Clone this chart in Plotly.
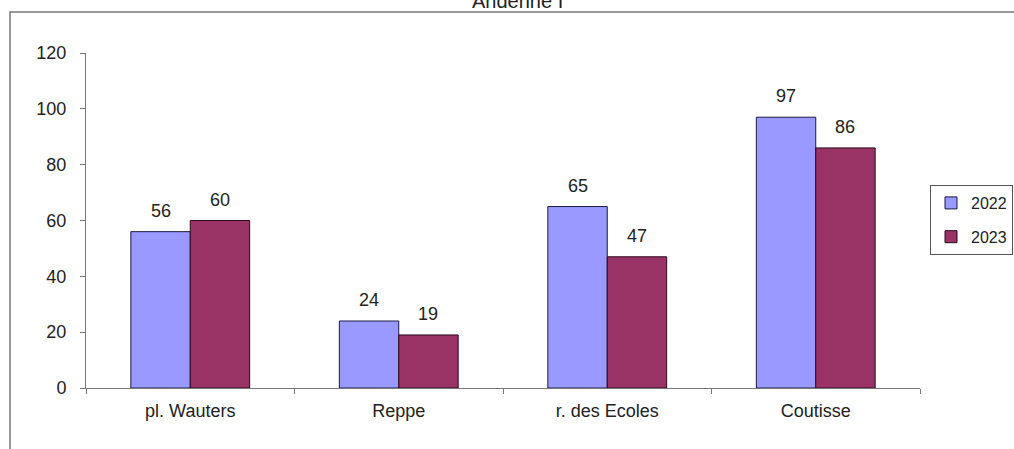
import plotly.graph_objects as go

categories = ["pl. Wauters", "Reppe", "r. des Ecoles", "Coutisse"]
series_names = ["2022", "2023"]
values_2022 = [56, 24, 65, 97]
values_2023 = [60, 19, 47, 86]
y_ticks = [0, 20, 40, 60, 80, 100, 120]
title_text = "Andenne I"

W, H = 1014, 449
L, R, T, B = 86, 94, 53, 61
pw, ph = W - L - R, H - T - B
BARGAP = 0.43

def px_x(x):
    return (x - L) / pw

def px_y(y):
    return 1 - (y - T) / ph

FAM = "Arial, Liberation Sans, sans-serif"
font = dict(family=FAM, size=18, color="#222222")

colors = ["#9999FF", "#993366"]
edges = ["#1a1a40", "#2a0a1a"]
series = [values_2022, values_2023]

fig = go.Figure()
for i, (name, vals) in enumerate(zip(series_names, series)):
    fig.add_trace(go.Bar(
        x=categories, y=vals, name=name, legendgroup=name,
        marker=dict(color=colors[i], line=dict(color=edges[i], width=1)),
    ))

# data labels above each bar
cat_px = pw / len(categories)
bar_px = cat_px * (1 - BARGAP) / 2
annotations = []
for i, vals in enumerate(series):
    shift = (i - 0.5) * bar_px
    for c, v in zip(categories, vals):
        annotations.append(dict(
            x=c, y=v, xref="x", yref="y", text=str(v), showarrow=False,
            xanchor="center", yanchor="bottom", xshift=shift, yshift=9,
            font=font,
        ))

annotations.append(dict(
    text=title_text, xref="paper", yref="paper",
    x=px_x(517), y=px_y(14), xanchor="center", yanchor="bottom",
    showarrow=False,
    font=dict(family=FAM, size=20, color="#222222"),
))

fig.update_layout(
    width=W, height=H,
    margin=dict(l=L, r=R, t=T, b=B, autoexpand=False),
    paper_bgcolor="white", plot_bgcolor="white",
    barmode="group", bargap=BARGAP, bargroupgap=0,
    font=font,
    showlegend=True,
    legend=dict(
        x=px_x(930), y=px_y(185), xanchor="left", yanchor="top",
        bordercolor="#555555", borderwidth=1, bgcolor="white",
        font=dict(family=FAM, size=16, color="#222222"),
        traceorder="grouped", tracegroupgap=10, itemwidth=30,
    ),
    xaxis=dict(
        showline=True, linecolor="#777777", linewidth=1,
        ticks="outside", tickson="boundaries", ticklen=5, tickcolor="#777777",
        showgrid=False, zeroline=False,
        tickfont=font, ticklabelstandoff=6,
    ),
    yaxis=dict(
        range=[0, 120], tickvals=y_ticks,
        showline=True, linecolor="#777777", linewidth=1,
        ticks="outside", ticklen=5, tickcolor="#777777",
        showgrid=False, zeroline=False,
        tickfont=font, ticklabelstandoff=10,
    ),
    shapes=[dict(
        type="rect", xref="paper", yref="paper",
        x0=px_x(10), x1=px_x(1100), y0=px_y(600), y1=px_y(12),
        line=dict(color="#777777", width=1.5), fillcolor="rgba(0,0,0,0)", layer="below",
    )],
    annotations=annotations,
)

fig.write_html("out.html", config={"displayModeBar": False},
               post_script="document.body.style.margin='0';")
